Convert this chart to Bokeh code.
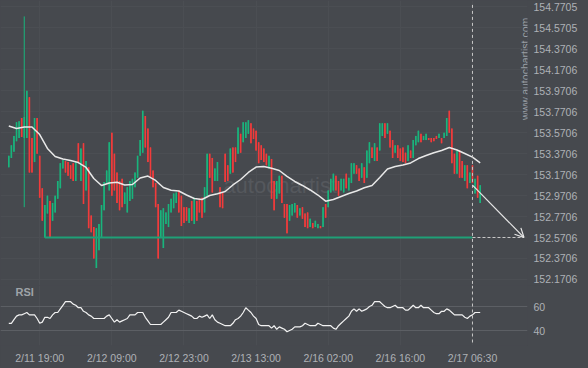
import math
from bokeh.plotting import figure
from bokeh.layouts import column
from bokeh.models import (Range1d, FixedTicker, PrintfTickFormatter, Label, Span,
                          Arrow, OpenHead, ColumnDataSource)
from bokeh.embed import file_html
from bokeh.resources import INLINE

# ---------------- data ----------------
time_labels = ["2/11 19:00", "2/12 09:00", "2/12 23:00", "2/13 13:00",
               "2/16 02:00", "2/16 16:00", "2/17 06:30"]
time_label_idx = [12, 40, 68, 96, 124, 152, 180]

opens = [
    153.24, 153.33, 153.39, 153.49, 153.52, 153.71, 153.52, 153.52, 153.91, 153.52,
    153.29, 153.71, 153.35, 153.04, 152.57, 152.80, 152.92, 152.73, 152.81, 152.94,
    153.04, 153.23, 153.30, 153.29, 153.26, 153.28, 153.11, 153.47, 153.11, 153.47,
    153.02, 153.24, 152.78, 152.67, 152.28, 152.45, 152.57, 152.83, 153.09, 153.02,
    153.57, 153.37, 153.19, 153.11, 153.13, 152.89, 152.81, 152.92, 152.94, 153.05,
    153.14, 153.35, 153.38, 153.73, 153.61, 153.43, 153.21, 153.09, 152.89, 152.57,
    152.47, 152.70, 152.67, 152.81, 152.85, 152.90, 153.02, 152.97, 152.86, 152.86,
    152.71, 152.92, 152.70, 152.92, 152.94, 152.95, 152.81, 152.97, 153.37, 153.33,
    153.11, 153.11, 153.05, 153.00, 153.37, 153.26, 153.18, 153.43, 153.43, 153.37,
    153.56, 153.48, 153.52, 153.56, 153.66, 153.61, 153.59, 153.48, 153.45, 153.42,
    153.37, 153.23, 153.32, 153.11, 152.94, 152.99, 153.16, 152.89, 152.89, 152.73,
    152.78, 152.81, 152.88, 152.78, 152.86, 152.80, 152.81, 152.67, 152.71, 152.67,
    152.66, 152.68, 152.67, 152.89, 152.86, 153.00, 153.02, 153.16, 153.11, 153.02,
    153.00, 153.18, 153.02, 153.09, 153.18, 153.26, 153.23, 153.14, 153.24, 153.14,
    153.28, 153.43, 153.30, 153.43, 153.40, 153.54, 153.66, 153.56, 153.59, 153.50,
    153.38, 153.45, 153.42, 153.43, 153.38, 153.30, 153.40, 153.33, 153.45, 153.48,
    153.56, 153.50, 153.50, 153.52, 153.52, 153.52, 153.54, 153.52, 153.52, 153.52,
    153.54, 153.78, 153.61, 153.37, 153.18, 153.40, 153.30, 153.11, 153.26, 153.09,
    153.26, 152.99, 153.16, 152.90,
]
closes = [
    153.35, 153.45, 153.54, 153.67, 153.68, 153.53, 153.72, 153.97, 153.19, 153.19,
    153.71, 153.37, 152.95, 152.73, 152.88, 152.97, 152.57, 152.90, 152.97, 153.11,
    153.28, 153.31, 153.19, 153.16, 153.13, 153.11, 153.29, 153.28, 153.42, 152.89,
    153.30, 152.66, 152.62, 152.37, 152.66, 152.70, 152.88, 153.10, 153.21, 153.48,
    152.97, 153.02, 152.90, 152.83, 152.86, 153.00, 153.05, 153.11, 153.13, 153.19,
    153.35, 153.50, 153.78, 153.43, 153.29, 153.14, 153.05, 152.86, 152.37, 152.83,
    152.85, 152.81, 152.89, 152.94, 152.99, 153.00, 152.81, 152.68, 152.71, 152.73,
    152.85, 152.73, 152.95, 152.73, 152.81, 152.76, 153.05, 153.37, 153.14, 153.00,
    153.23, 153.29, 152.86, 152.85, 153.10, 153.11, 153.42, 153.19, 153.29, 153.62,
    153.38, 153.67, 153.67, 153.69, 153.47, 153.51, 153.40, 153.28, 153.31, 153.29,
    153.26, 153.35, 152.94, 152.83, 153.11, 153.16, 152.90, 152.76, 152.61, 152.88,
    152.89, 152.90, 152.76, 152.85, 152.75, 152.67, 152.66, 152.75, 152.66, 152.73,
    152.70, 152.66, 152.86, 152.76, 153.02, 153.13, 153.18, 153.02, 152.97, 153.13,
    153.13, 153.04, 153.14, 153.28, 153.28, 153.18, 153.11, 153.28, 153.09, 153.40,
    153.48, 153.33, 153.47, 153.30, 153.66, 153.66, 153.52, 153.66, 153.43, 153.33,
    153.45, 153.33, 153.30, 153.29, 153.28, 153.45, 153.33, 153.50, 153.54, 153.59,
    153.48, 153.54, 153.56, 153.50, 153.48, 153.49, 153.51, 153.56, 153.47, 153.57,
    153.71, 153.57, 153.28, 153.18, 153.40, 153.14, 153.14, 153.26, 153.04, 153.19,
    153.09, 153.13, 152.95, 153.07,
]
# candles whose wick reaches beyond the body: index -> (low, high)
long_wicks = {6: (152.86, 154.68)}

# moving average, one value every 3 candles (candle 0, 3, 6, ... 183)
ma_step = 3
ma_values = [
    153.635, 153.611, 153.625, 153.625, 153.553, 153.420, 153.344, 153.320, 153.305, 153.286,
    153.239, 153.134, 153.067, 153.091, 153.098, 153.072, 153.076, 153.138, 153.157, 153.115,
    153.048, 153.021, 153.014, 152.976, 152.943, 152.933, 152.971, 152.988, 153.010, 153.072,
    153.124, 153.191, 153.243, 153.248, 153.231, 153.210, 153.153, 153.105, 153.067, 153.024,
    152.976, 152.917, 152.933, 152.962, 152.990, 153.014, 153.045, 153.067, 153.143, 153.224,
    153.248, 153.262, 153.282, 153.324, 153.353, 153.379, 153.401, 153.429, 153.405, 153.372,
    153.337, 153.283,
]

rsi_values = [
    46, 46, 49, 52, 53, 53, 54, 55, 53, 53,
    53, 50, 46, 47, 51, 51, 50, 53, 55, 55,
    58, 61, 64, 64, 64, 62, 61, 59, 59, 56,
    55, 53, 52, 50, 50, 50, 50, 50, 52, 53,
    50, 47, 49, 47, 48, 49, 50, 53, 53, 53,
    55, 55, 55, 51, 48, 45, 45, 45, 45, 45,
    47, 49, 51, 55, 55, 55, 57, 56, 55, 54,
    53, 52, 50, 50, 52, 51, 52, 53, 50, 53,
    49, 47, 46, 45, 44, 44, 44, 46, 49, 50,
    52, 55, 59, 57, 55, 52, 50, 45, 44, 44,
    44, 44, 42, 44, 41, 43, 42, 41, 39, 40,
    41, 43, 43, 43, 44, 46, 45, 44, 44, 44,
    46, 45, 44, 44, 44, 44, 42, 41, 44, 46,
    48, 50, 52, 56, 58, 56, 58, 56, 57, 58,
    60, 61, 64, 64, 64, 62, 60, 59, 59, 60,
    61, 59, 59, 59, 57, 57, 59, 61, 59, 59,
    61, 59, 59, 59, 57, 55, 54, 54, 56, 56,
    58, 57, 55, 53, 53, 53, 53, 51, 50, 52,
    53, 55, 55, 55,
]

price_ticks = [152.1706, 152.3706, 152.5706, 152.7706, 152.9706, 153.1706, 153.3706,
               153.5706, 153.7706, 153.9706, 154.1706, 154.3706, 154.5705, 154.7705]
rsi_ticks = [40, 60]

support_level = 152.5706
support_start_idx = 14
current_idx = 180
projection_start_price = 153.07
target_idx = 200

# ---------------- styling ----------------
BG = "#46494e"
GRID = "#4b4e53"
TXT = "#aeb1b6"
UP = "#19b47c"
DOWN = "#f23b3b"
SUPPORT = "#1fa077"
FONT = "Liberation Sans"

n = min(len(opens), len(closes))
xs = list(range(n))
body_top = [max(opens[i], closes[i]) for i in range(n)]
body_bot = [min(opens[i], closes[i]) for i in range(n)]
src = ColumnDataSource(dict(
    x=xs,
    top=body_top,
    bottom=body_bot,
    high=[long_wicks[i][1] if i in long_wicks else body_top[i] for i in range(n)],
    low=[long_wicks[i][0] if i in long_wicks else body_bot[i] for i in range(n)],
    color=[UP if closes[i] >= opens[i] else DOWN for i in range(n)],
))

x_range = Range1d(-3.22, 201.36)


def style_axis(ax):
    ax.axis_line_color = None
    ax.major_tick_line_color = None
    ax.minor_tick_line_color = None
    ax.major_tick_out = 0
    ax.major_tick_in = 0
    ax.major_label_text_color = TXT
    ax.major_label_text_font = FONT
    ax.major_label_text_font_size = "10.5px"
    ax.major_label_standoff = 6


p1 = figure(frame_width=527, frame_height=285, x_range=x_range,
            y_range=Range1d(152.1126, 154.832), output_backend="svg",
            toolbar_location=None, x_axis_location=None, y_axis_location="right",
            background_fill_color=BG, border_fill_color=BG, min_border=0,
            outline_line_color=None)
style_axis(p1.yaxis[0])
p1.yaxis[0].ticker = FixedTicker(ticks=price_ticks)
p1.yaxis[0].formatter = PrintfTickFormatter(format="%.4f")
p1.ygrid.ticker = FixedTicker(ticks=price_ticks)
p1.ygrid.grid_line_color = GRID
p1.xgrid.ticker = FixedTicker(ticks=time_label_idx)
p1.xgrid.grid_line_color = GRID

# watermark
p1.add_layout(Label(x=83.3, y=153.067, text="autochartist", text_color="#55585d",
                    text_font=FONT, text_font_size="22px", text_baseline="middle",
                    level="underlay"))
p1.add_layout(Label(x=200.2, y=154.18, text="www.autochartist.com", angle=math.pi / 2,
                    text_color="#9a9ea3", text_font=FONT, text_font_size="10.5px",
                    text_align="center", text_baseline="middle"))

p1.segment(x0="x", y0="low", x1="x", y1="high", source=src, line_color="color", line_width=1)
p1.vbar(x="x", width=0.62, top="top", bottom="bottom", source=src,
        fill_color="color", line_color=None)

ma_x = [k * ma_step for k in range(len(ma_values))]
p1.line(ma_x, ma_values, line_color="#e8e8e8", line_width=1.5)

p1.segment(x0=[support_start_idx], y0=[support_level], x1=[current_idx], y1=[support_level],
           line_color=SUPPORT, line_width=2.2)
p1.segment(x0=[current_idx], y0=[support_level], x1=[target_idx], y1=[support_level],
           line_color="#c8c8c8", line_width=1, line_dash="3 2")
p1.segment(x0=[current_idx], y0=[154.79], x1=[current_idx], y1=[152.1126],
           line_color="#c8c8c8", line_width=1, line_dash="3 3")
p1.add_layout(Arrow(x_start=current_idx, y_start=projection_start_price,
                    x_end=target_idx, y_end=support_level, line_color="#e6e6e6",
                    line_width=1.2,
                    end=OpenHead(size=9, line_color="#e6e6e6", line_width=1.2)))

p2 = figure(frame_width=527, frame_height=60, x_range=x_range,
            y_range=Range1d(27.5, 77.5), output_backend="svg", toolbar_location=None,
            y_axis_location="right", background_fill_color=BG, border_fill_color=BG,
            min_border=0, outline_line_color=None)
style_axis(p2.yaxis[0])
p2.yaxis[0].ticker = FixedTicker(ticks=rsi_ticks)
style_axis(p2.xaxis[0])
p2.xaxis[0].ticker = FixedTicker(ticks=time_label_idx)
p2.xaxis[0].major_label_overrides = {k: v for k, v in zip(time_label_idx, time_labels)}
p2.ygrid.ticker = FixedTicker(ticks=rsi_ticks)
p2.ygrid.grid_line_color = "#5c5f64"
p2.xgrid.ticker = FixedTicker(ticks=time_label_idx)
p2.xgrid.grid_line_color = GRID
p2.line(list(range(len(rsi_values))), rsi_values, line_color="#f2f2f2", line_width=1.2)
p2.add_layout(Span(location=current_idx, dimension="height", line_color="#c8c8c8",
                   line_width=1, line_dash="3 3"))
p2.add_layout(Label(x=2.6, y=72.5, text="RSI", text_color="#9fa3a8", text_font=FONT,
                    text_font_size="11px", text_font_style="bold", text_baseline="middle"))

layout = column(p1, p2, spacing=0)
layout.styles = {"background-color": BG}

html = file_html(layout, INLINE, title="chart")
html = html.replace("<head>", "<head><style>html,body{margin:0;padding:0;background:%s;overflow:hidden;}</style>" % BG, 1)
open("out.html", "w").write(html)
